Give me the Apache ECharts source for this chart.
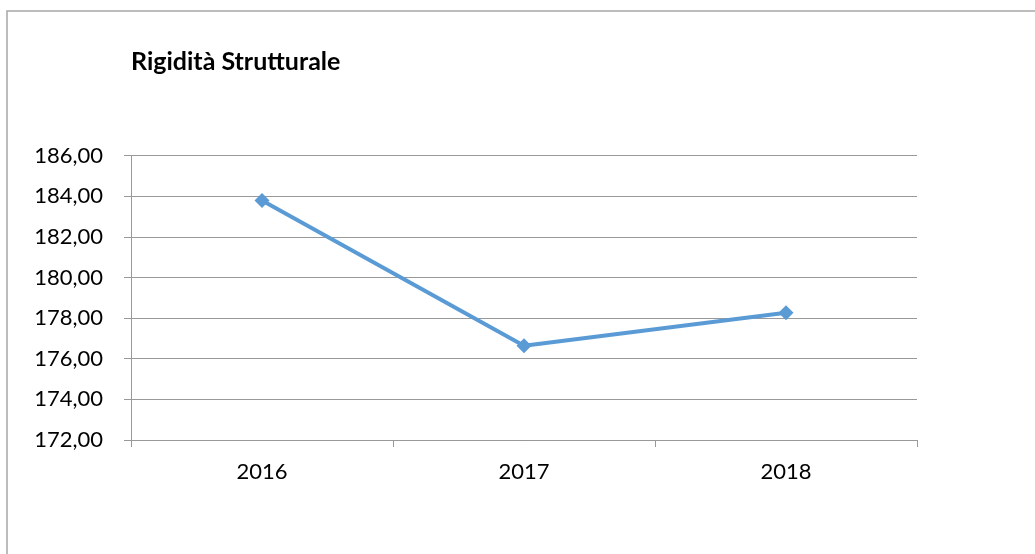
<!DOCTYPE html>
<html>
<head>
<meta charset="utf-8">
<script src="https://cdn.jsdelivr.net/npm/echarts@6/dist/echarts.min.js"></script>
<style>
  html, body { margin: 0; padding: 0; background: #fff; }
  #container { width: 1035px; height: 554px; }
</style>
</head>
<body>
<div id="container"></div>
<script>
// dati
var anni = ["2016", "2017", "2018"];
var rigidita = [183.78, 176.64, 178.26];
var yMin = 172, yMax = 186, yStep = 2;

var font = "Lato, 'Open Sans', sans-serif";
var chart = echarts.init(document.getElementById("container"));

chart.setOption({
  animation: false,
  backgroundColor: "#fff",
  title: {
    text: "Rigidità Strutturale",
    left: 131,
    top: 49,
    padding: 0,
    textStyle: { fontFamily: font, fontSize: 25, fontWeight: "bold", color: "#000" }
  },
  graphic: [{
    type: "rect",
    shape: { x: 7, y: 11, width: 1100, height: 600 },
    style: { fill: "none", stroke: "#a6a6a6", lineWidth: 1.5 },
    silent: true
  }],
  grid: { left: 131, right: 118, top: 155.5, bottom: 114 },
  xAxis: {
    type: "category",
    data: anni,
    boundaryGap: true,
    axisLine: { lineStyle: { color: "#999", width: 1 } },
    axisTick: { show: true, length: 7, lineStyle: { color: "#999" } },
    axisLabel: { color: "#000", fontFamily: font, fontSize: 22, margin: 21 }
  },
  yAxis: {
    type: "value",
    min: yMin,
    max: yMax,
    interval: yStep,
    axisLine: { show: true, lineStyle: { color: "#999", width: 1 } },
    axisTick: { show: true, length: 7, lineStyle: { color: "#999" } },
    splitLine: { lineStyle: { color: "#999", width: 1 } },
    axisLabel: {
      color: "#000", fontFamily: font, fontSize: 22, margin: 28,
      formatter: function (v) { return v.toFixed(2).replace(".", ","); }
    }
  },
  series: [{
    type: "line",
    data: rigidita,
    symbol: "diamond",
    symbolSize: 15,
    lineStyle: { color: "#5B9BD5", width: 4 },
    itemStyle: { color: "#5B9BD5" }
  }]
});
</script>
</body>
</html>
